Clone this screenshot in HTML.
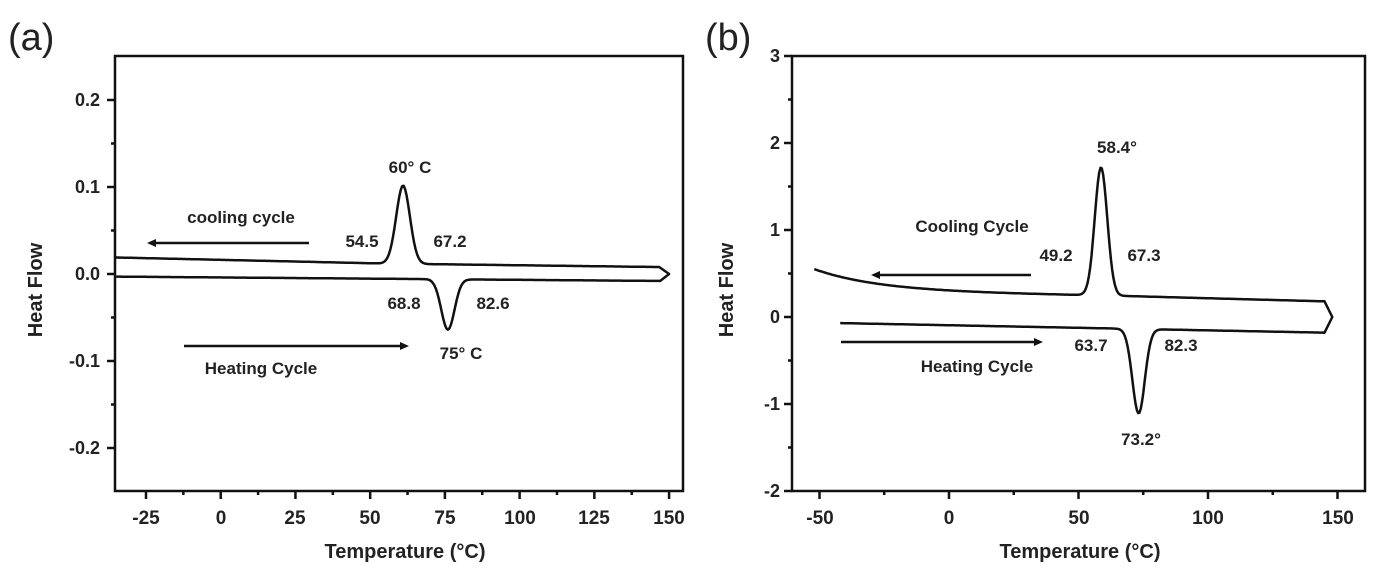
<!DOCTYPE html>
<html><head><meta charset="utf-8"><style>
html,body{margin:0;padding:0;background:#fff;}
svg{display:block;font-family:"Liberation Sans",Arial,sans-serif;}
text{fill:#222;font-weight:bold;}
</style></head><body>
<svg id="s" width="1386" height="576" viewBox="0 0 1386 576" xmlns="http://www.w3.org/2000/svg">
<text x="8" y="50" style="font-size:38px;font-weight:normal">(a)</text>
<text x="705" y="50" style="font-size:38px;font-weight:normal">(b)</text>
<rect x="115" y="56" width="568" height="435" fill="none" stroke="#111" stroke-width="2.5"/>
<rect x="792" y="56" width="573" height="435" fill="none" stroke="#111" stroke-width="2.5"/>
<g id="g"></g>
<g font-size="18" text-anchor="end">
<text x="100" y="106">0.2</text><text x="100" y="193">0.1</text><text x="100" y="280">0.0</text><text x="100" y="367">-0.1</text><text x="100" y="454">-0.2</text>
<text x="780" y="62">3</text><text x="780" y="149">2</text><text x="780" y="236">1</text><text x="780" y="323">0</text><text x="780" y="410">-1</text><text x="780" y="497">-2</text>
</g>
<g font-size="19" text-anchor="middle">
<text x="146" y="524">-25</text><text x="221" y="524">0</text><text x="295" y="524">25</text><text x="370" y="524">50</text><text x="445" y="524">75</text><text x="520" y="524">100</text><text x="594" y="524">125</text><text x="669" y="524">150</text>
<text x="820" y="524">-50</text><text x="949" y="524">0</text><text x="1079" y="524">50</text><text x="1208" y="524">100</text><text x="1338" y="524">150</text>
<text x="405" y="558" font-size="20">Temperature (°C)</text>
<text x="1080" y="558" font-size="20">Temperature (°C)</text>
<text transform="translate(42,290) rotate(-90)" font-size="20">Heat Flow</text>
<text transform="translate(733,290) rotate(-90)" font-size="20">Heat Flow</text>
</g>
<g font-size="17" text-anchor="middle">
<text x="241" y="223">cooling cycle</text><text x="261" y="374">Heating Cycle</text>
<text x="410" y="173">60° C</text><text x="362" y="247">54.5</text><text x="450" y="247">67.2</text>
<text x="404" y="309">68.8</text><text x="493" y="309">82.6</text><text x="461" y="359">75° C</text>
<text x="972" y="232">Cooling Cycle</text><text x="977" y="372">Heating Cycle</text>
<text x="1117" y="153">58.4°</text><text x="1056" y="261">49.2</text><text x="1144" y="261">67.3</text>
<text x="1091" y="351">63.7</text><text x="1181" y="351">82.3</text><text x="1141" y="445">73.2°</text>
</g>
</svg>
<script>
var g=document.getElementById('g'),NS='http://www.w3.org/2000/svg';
function add(tag,a){var e=document.createElementNS(NS,tag);for(var k in a)e.setAttribute(k,a[k]);g.appendChild(e);}
function line(x1,y1,x2,y2,w){add('line',{x1:x1,y1:y1,x2:x2,y2:y2,stroke:'#111','stroke-width':w||2});}
for(var T=-25;T<=150;T+=12.5){var x=146+(T+25)*2.989;line(x,491,x,T%25==0?499:495,2.5);}
for(var i=-4;i<=4;i++){var y=274-i*0.05*870;line(115,y,i%2==0?107:111,y,2.5);}
for(var T=-50;T<=150;T+=25){var x=949+T*2.59;line(x,491,x,T%50==0?499:495,2.5);}
for(var v=-2;v<=3;v+=0.5){var y=317-v*87;line(792,y,v%1==0?784:788,y,2.5);}
function gs(T,m,s){return Math.exp(-(T-m)*(T-m)/(2*s*s));}
function path(pts){var d='';pts.forEach(function(p,i){d+=(i?'L':'M')+p[0].toFixed(1)+' '+p[1].toFixed(1);});add('path',{d:d,fill:'none',stroke:'#111','stroke-width':2.5,'stroke-linejoin':'round'});}
var X=function(T){return 146+(T+25)*2.989},Y=function(v){return 274-v*870};
var p=[];
for(var T=-35.3;T<=147;T+=0.5){var b=0.019-0.007*Math.min(1,(T+35)/90)-0.004*Math.max(0,(T-55)/92);p.push([X(T),Y(b+0.09*gs(T,61,2.3))]);}
p.push([X(150),Y(0)]);
for(var T=147;T>=-35.3;T-=0.5){var b=-0.008+0.005*(147-T)/182;p.push([X(T),Y(b-0.058*gs(T,76,2.2))]);}
path(p);
line(309,243,150,243,2.5);add('path',{d:'M147 243 l9 -4 v8z',fill:'#111'});
line(184,346,403,346,2.5);add('path',{d:'M409 346 l-9 -4 v8z',fill:'#111'});
X=function(T){return 949+T*2.59};Y=function(v){return 317-v*87};
p=[];
for(var T=-52;T<=145;T+=0.5){var b=0.25+0.25*Math.exp(-(T+52)/25)+0.05*Math.max(0,(50-T)/102)-0.07*Math.max(0,(T-55)/90);p.push([X(T),Y(b+1.47*gs(T,58.7,2.4))]);}
p.push([X(148),Y(0)]);
for(var T=145;T>=-42;T-=0.5){var b=-0.18+0.11*(145-T)/187;p.push([X(T),Y(b-0.97*gs(T,73.2,2.4))]);}
path(p);
line(1031,275,874,275,2.5);add('path',{d:'M871 275 l9 -4 v8z',fill:'#111'});
line(841,342,1037,342,2.5);add('path',{d:'M1043 342 l-9 -4 v8z',fill:'#111'});
</script>
</body></html>
